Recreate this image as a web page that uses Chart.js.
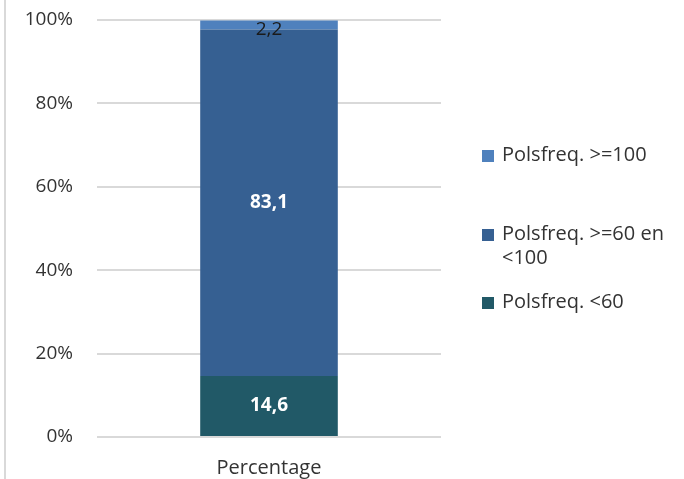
<!DOCTYPE html>
<html>
<head>
<meta charset="utf-8">
<script src="https://cdn.jsdelivr.net/npm/chart.js@4"></script>
<style>
  html, body { margin: 0; padding: 0; background: #fff; }
  #wrap { position: relative; width: 684px; height: 479px; }
  #wrap::before {
    content: ""; position: absolute; left: 4px; top: 0; bottom: 0;
    width: 2px; background: #d9d9d9;
  }
</style>
</head>
<body>
<div id="wrap"><canvas id="chart" width="684" height="479"></canvas></div>
<script>
  const categories = ["Percentage"];
  const seriesLabels = ["Polsfreq. <60", "Polsfreq. >=60 en\n<100", "Polsfreq. >=100"];
  const seriesValues = [[14.6], [83.1], [2.2]];
  const seriesColors = ["#215967", "#366092", "#4f81bd"];
  const yTicks = [0, 20, 40, 60, 80, 100];

  const FONT = "'Open Sans', sans-serif";
  const fmt = (v) => v.toFixed(1).replace(".", ",");

  // value labels inside each stacked segment
  const segmentLabels = {
    id: "segmentLabels",
    afterDatasetsDraw(chart) {
      const ctx = chart.ctx;
      ctx.save();
      ctx.textAlign = "center";
      ctx.textBaseline = "middle";
      chart.data.datasets.forEach((ds, i) => {
        const meta = chart.getDatasetMeta(i);
        meta.data.forEach((bar, j) => {
          const v = ds.data[j];
          const small = v < 5;
          const top = Math.min(bar.y, bar.base);
          const mid = (bar.y + bar.base) / 2;
          const y = small ? Math.max(mid, top + 9) : mid;
          ctx.font = (small ? "normal " : "bold ") + "19px " + FONT;
          ctx.fillStyle = small ? "#1a1a1a" : "#ffffff";
          ctx.fillText(fmt(v), bar.x, y);
        });
      });
      ctx.restore();
    }
  };

  // legend drawn on the right, top series first, long labels split on \n
  const sideLegend = {
    id: "sideLegend",
    afterDraw(chart, args, opts) {
      const ctx = chart.ctx;
      ctx.save();
      ctx.textAlign = "left";
      ctx.textBaseline = "middle";
      ctx.font = "20px " + FONT;
      const order = chart.data.datasets.map((d, i) => i).reverse();
      order.forEach((di, k) => {
        const ds = chart.data.datasets[di];
        const y0 = opts.rows[k];
        ctx.fillStyle = ds.backgroundColor;
        ctx.fillRect(opts.x, y0 - 5, 12, 12);
        ctx.fillStyle = "#333333";
        ds.label.split("\n").forEach((line, li) => {
          ctx.fillText(line, opts.x + 20, y0 + li * opts.lineHeight);
        });
      });
      ctx.restore();
    }
  };

  new Chart(document.getElementById("chart"), {
    type: "bar",
    data: {
      labels: categories,
      datasets: seriesValues.map((vals, i) => ({
        label: seriesLabels[i],
        data: vals,
        backgroundColor: seriesColors[i],
        borderWidth: 0,
        barPercentage: 0.4,
        categoryPercentage: 1.0,
      })),
    },
    options: {
      responsive: false,
      animation: false,
      layout: { padding: { left: 0, right: 243, top: 20, bottom: 0 } },
      plugins: {
        legend: { display: false },
        tooltip: { enabled: false },
        sideLegend: { x: 482, rows: [155, 234, 302], lineHeight: 24 },
      },
      scales: {
        x: {
          stacked: true,
          grid: { display: false },
          border: { display: false },
          ticks: { color: "#333333", font: { family: FONT, size: 20 }, padding: 11 },
          afterFit: (s) => { s.height = 42; s.paddingLeft = 0; s.paddingRight = 0; },
        },
        y: {
          stacked: true,
          min: 0,
          max: 100,
          afterBuildTicks: (s) => { s.ticks = yTicks.map(v => ({ value: v })); },
          grid: { color: "#d9d9d9", lineWidth: 2, drawTicks: false },
          border: { display: false },
          ticks: {
            color: "#333333",
            font: { family: FONT, size: 19 },
            padding: 24,
            callback: (v) => v + "%",
          },
          afterFit: (s) => { s.width = 97; s.paddingTop = 0; s.paddingBottom = 0; },
        },
      },
    },
    plugins: [segmentLabels, sideLegend],
  });
</script>
</body>
</html>
